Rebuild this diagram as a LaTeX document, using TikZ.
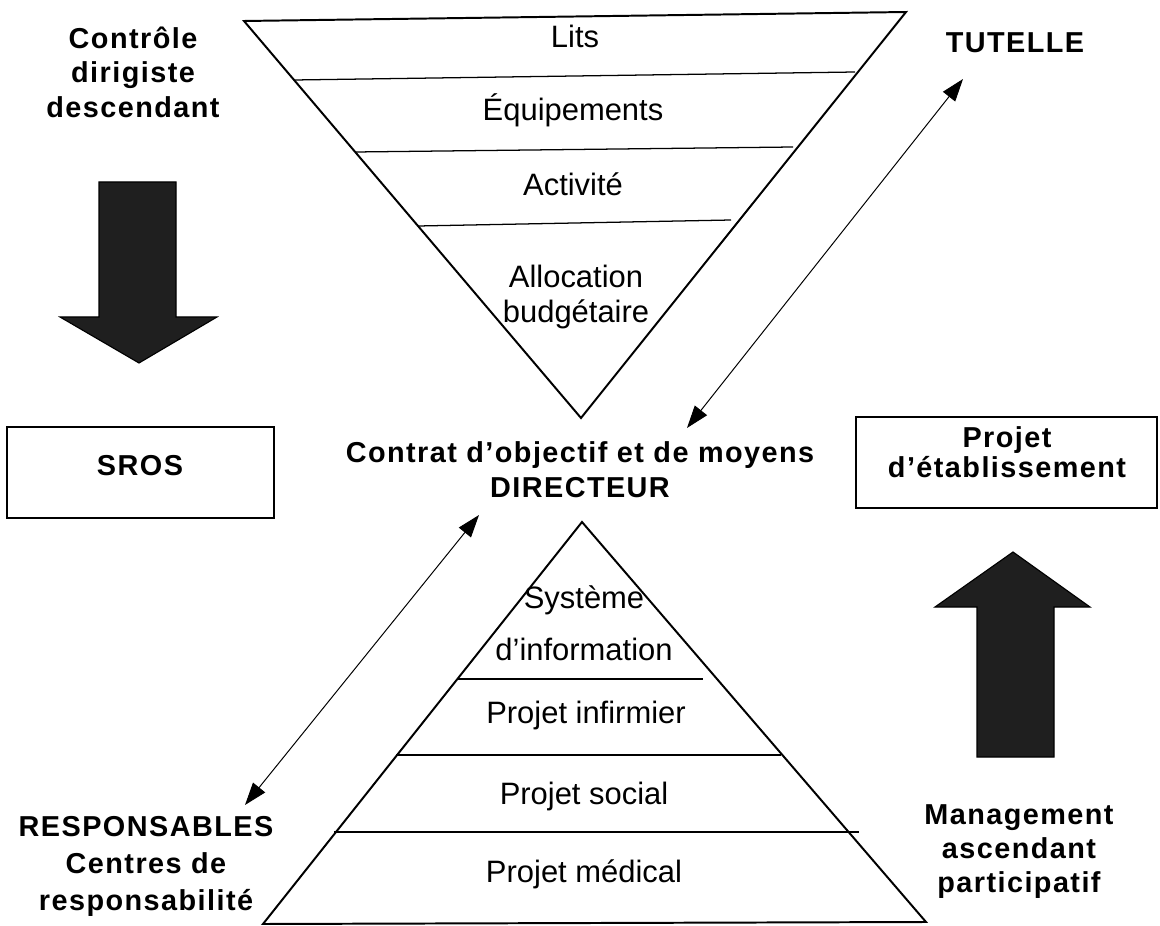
\documentclass[tikz,border=0pt]{standalone}
\usepackage{fontspec}
\setmainfont{Liberation Sans}
\newfontfamily\lblfont[LetterSpace=5]{Liberation Sans}
\usetikzlibrary{arrows.meta}

\begin{document}
\begin{tikzpicture}[x=0.025cm, y=-0.025cm,
    >={Triangle[length=16pt,width=11pt]},
    tri/.style={line width=1.4pt, line join=miter},
    layer/.style={line width=0.9pt},
    item/.style={font=\fontsize{22}{25}\selectfont, align=center, inner sep=0pt},
    lbl/.style={font=\lblfont\bfseries\fontsize{20.5}{24.5}\selectfont, align=center, inner sep=0pt},
    bigarrow/.style={fill=black!88, draw=black, line width=0.8pt},
    link/.style={<->, line width=0.7pt},
    box/.style={draw, line width=1.3pt}]
  \useasboundingbox (0,0) rectangle (1160,926);

  %% Inverted triangle (tutelle)
  \draw[tri] (244,21) -- (906,12) -- (581,418) -- cycle;
  \draw[layer] (294,80) -- (855,72);
  \draw[layer] (355,152) -- (793,147);
  \draw[layer] (418,226) -- (731,220);
  \node[item] (lits)  at (575,36)  {Lits};
  \node[item] (equip) at (573,110) {Équipements};
  \node[item] (activ) at (573,184) {Activité};
  \node[item] (alloc) at (576,297) {Allocation\\budgétaire};

  %% Pyramid (établissement)
  \draw[tri] (582,522) -- (926,922) -- (263,924) -- cycle;
  \draw[layer] (457,679) -- (703,679);
  \draw[layer] (396,755) -- (781,755);
  \draw[layer] (334,832) -- (859,832);
  \node[item, font=\fontsize{22}{37}\selectfont] (sysinfo) at (584,623)
    {Système\\d’information};
  \node[item] (infirm)  at (586,715) {Projet infirmier};
  \node[item] (social)  at (584,796) {Projet social};
  \node[item] (medical) at (584,874) {Projet médical};

  %% Labels
  \node[lbl] (controle) at (133,72) {Contrôle\\dirigiste\\descendant};
  \node[lbl] (tutelle)  at (1015,43) {TUTELLE};
  \node[lbl, font=\lblfont\bfseries\fontsize{20.5}{25}\selectfont] (contrat) at (580,470)
    {Contrat d’objectif et de moyens\\DIRECTEUR};
  \node[lbl, font=\lblfont\bfseries\fontsize{20.5}{26.3}\selectfont] (resp) at (146,866)
    {RESPONSABLES\\Centres de\\responsabilité};
  \node[lbl, font=\lblfont\bfseries\fontsize{20.5}{24.2}\selectfont] (manag) at (1019,852)
    {Management\\ascendant\\participatif};

  %% Boxes
  \draw[box] (7,427) rectangle (274,518);
  \node[lbl] (sros) at (140,466) {SROS};
  \draw[box] (856,417) rectangle (1157,508);
  \node[lbl, font=\lblfont\bfseries\fontsize{20.5}{21.5}\selectfont] (projet) at (1007,452)
    {Projet\\d’établissement};

  %% Big arrows
  \draw[bigarrow] (99,182) -- (176,182) -- (176,317) -- (217,317)
    -- (139,363) -- (60,317) -- (99,317) -- cycle;
  \draw[bigarrow] (977,757) -- (977,607) -- (935,607) -- (1013,552)
    -- (1090,607) -- (1054,607) -- (1054,757) -- cycle;

  %% Thin double arrows
  \coordinate (tutTip) at (963,79);
  \coordinate (dirR)   at (687,428);
  \coordinate (dirL)   at (479,515);
  \coordinate (respTip) at (245,805);
  \draw[link] (tutTip) -- (dirR);
  \draw[link] (dirL) -- (respTip);
\end{tikzpicture}
\end{document}
